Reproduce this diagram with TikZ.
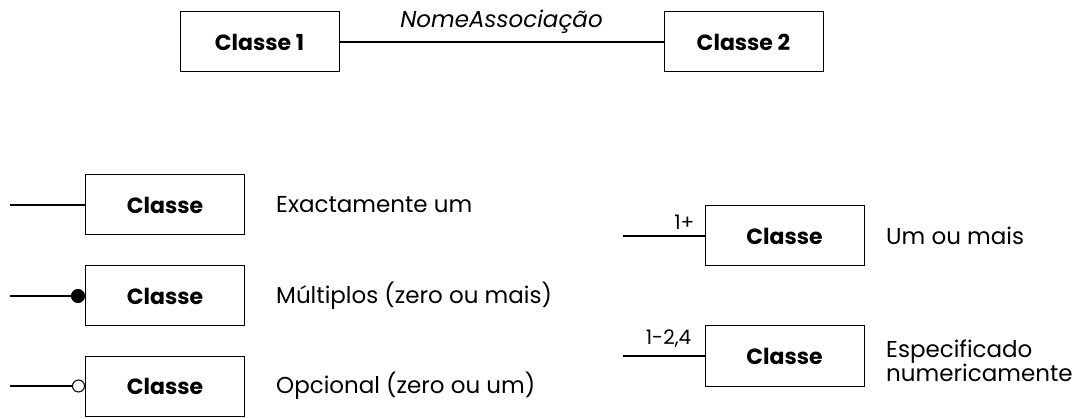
\documentclass[tikz,border=0pt]{standalone}
\usepackage{fontspec}
\setmainfont{Poppins}
\begin{document}
\begin{tikzpicture}[x=1pt,y=-1pt,
  cls/.style={draw,line width=1pt,minimum width=159pt,minimum height=60pt,inner sep=0pt,font=\fontsize{22}{24}\selectfont\bfseries},
  lbl/.style={anchor=west,inner sep=0pt,font=\fontsize{23}{25}\selectfont},
  conn/.style={line width=1.2pt},
  mult/.style={anchor=south east,inner sep=0pt,font=\fontsize{20}{22}\selectfont}]
\useasboundingbox (0,0) rectangle (1078,419);
\node[cls] (c1) at (259.5,42) {Classe 1};
\node[cls] (c2) at (743.5,42) {Classe 2};
\draw[conn] (c1) -- node[above=5pt,font=\fontsize{23}{25}\selectfont\itshape] (an) {NomeAssociação} (c2);

\node[cls] (a) at (165,205) {Classe};
\node[cls] (b) at (165,296) {Classe};
\node[cls] (c) at (165,386) {Classe};
\coordinate (a0) at (10,205);
\coordinate (b0) at (10,296);
\coordinate (c0) at (10,386);
\draw[conn] (a0) -- (a.west);
\draw[conn] (b0) -- (b.west);
\draw[conn] (c0) -- (c.west);
\node[circle,fill=black,draw,line width=1pt,minimum size=13pt,inner sep=0pt,anchor=east] (bd) at (b.west) {};
\node[circle,fill=white,draw,line width=1pt,minimum size=12pt,inner sep=0pt,anchor=east] (cd) at (c.west) {};
\node[lbl] (la) at (276,205) {Exactamente um};
\node[lbl] (lb) at (276,296) {Múltiplos (zero ou mais)};
\node[lbl] (lc) at (276,386) {Opcional (zero ou um)};

\node[cls] (d) at (784.5,236) {Classe};
\node[cls] (e) at (784.5,356) {Classe};
\coordinate (d0) at (623,236);
\coordinate (e0) at (623,356);
\draw[conn] (d0) -- (d.west);
\draw[conn] (e0) -- (e.west);
\node[mult] (md) at ([xshift=-10pt,yshift=6pt]d.west) {1+};
\node[mult] (me) at ([xshift=-13pt,yshift=8pt]e.west) {1-2,4};
\node[lbl] (ld) at (886,236) {Um ou mais};
\node[lbl,align=left,font=\fontsize{23}{22}\selectfont] (le) at (886,361) {Especificado\\numericamente};
\end{tikzpicture}
\end{document}
